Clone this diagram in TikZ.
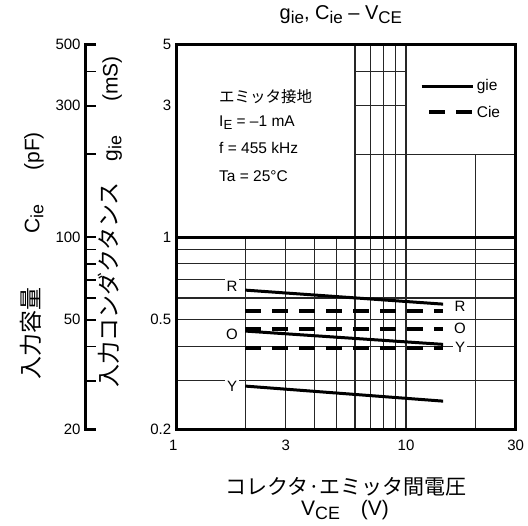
\documentclass[tikz,border=0pt]{standalone}
\usepackage{graphicx}
\usepackage{fontspec}
\setmainfont{Liberation Sans}
\newfontfamily\cjk{Noto Sans CJK JP}
\newcommand{\lsub}[1]{\raisebox{-0.35ex}{\scalebox{0.85}{#1}}}
\tikzset{
  grid line/.style={line width=1.4pt, black!85},
  frame line/.style={line width=3pt},
  gie curve/.style={line width=3pt},
  cie curve/.style={line width=3.8pt, dash pattern=on 16pt off 11pt},
  tick label/.style={font=\fontsize{15}{17}\selectfont, inner sep=0pt},
  curve label/.style={font=\fontsize{15}{17}\selectfont, fill=white, inner sep=2pt},
  note text/.style={font=\fontsize{15.5}{18}\selectfont, anchor=west, inner sep=0pt},
  axis title/.style={font=\fontsize{21}{24}\selectfont, inner sep=0pt},
}
\begin{document}
\begin{tikzpicture}[x=230pt,y=275pt]
  \useasboundingbox (-0.7652,-1.0473) rectangle (1.5304,0.8618);
  % Grid below 1
  \foreach \v in {0.3,0.4,0.5,0.6,0.7,0.8,0.9}
    \draw [grid line] (0,{log10(\v)}) -- ({log10(30)},{log10(\v)});
  \foreach \u in {2,3,4,5}
    \draw [grid line] ({log10(\u)},{log10(0.2)}) -- ({log10(\u)},0);
  \foreach \u in {6,7,8,9,10}
    \draw [grid line] ({log10(\u)},{log10(0.2)}) -- ({log10(\u)},{log10(5)});
  \draw [grid line] ({log10(20)},{log10(0.2)}) -- ({log10(20)},{log10(2)});
  % Grid above 1
  \draw [grid line] ({log10(6)},{log10(4)}) -- (1,{log10(4)});
  \draw [grid line] ({log10(6)},{log10(3)}) -- (1,{log10(3)});
  \draw [grid line] ({log10(6)},{log10(2)}) -- ({log10(30)},{log10(2)});
  \draw [frame line] (0,0) -- ({log10(30)},0);

  % Curve labels
  \node [curve label] (rl) at (0.2435,-0.178) {R};
  \node [curve label] (ol) at (0.2435,-0.353) {O};
  \node [curve label] (yl) at (0.2435,-0.542) {Y};
  \node [curve label] (rr) at (1.2348,-0.251) {R};
  \node [curve label] (or) at (1.2348,-0.331) {O};
  \node [curve label] (yr) at (1.2348,-0.400) {Y};

  % Curves
  \draw [gie curve] ({log10(2)},{log10(0.641)}) -- ({log10(14.5)},{log10(0.570)});
  \draw [gie curve] ({log10(2)},{log10(0.455)}) -- ({log10(14.5)},{log10(0.407)});
  \draw [gie curve] ({log10(2)},{log10(0.287)}) -- ({log10(14.5)},{log10(0.253)});
  \draw [cie curve] ({log10(2)},{log10(0.538)}) -- ({log10(14.5)},{log10(0.538)});
  \draw [cie curve] ({log10(2)},{log10(0.462)}) -- ({log10(14.5)},{log10(0.462)});
  \draw [cie curve] ({log10(2)},{log10(0.395)}) -- ({log10(14.5)},{log10(0.395)});

  % Frame and axes
  \draw [frame line] (0,{log10(0.2)}) rectangle ({log10(30)},{log10(5)});
  \draw [frame line] (-0.3478,{log10(5)}) -- (-0.3913,{log10(5)})
      -- (-0.3913,{log10(0.2)}) -- (-0.3478,{log10(0.2)});
  \foreach \v in {4,3,2,1,0.9,0.8,0.7,0.6,0.5,0.4,0.3}
    \draw [line width=1.8pt] (-0.3913,{log10(\v)}) -- (-0.3478,{log10(\v)});

  % Tick labels
  \node [tick label, anchor=east] (y5) at (-0.02,{log10(5)}) {5};
  \node [tick label, anchor=east] (y3) at (-0.02,{log10(3)}) {3};
  \node [tick label, anchor=east] (y1) at (-0.02,0) {1};
  \node [tick label, anchor=east] (y05) at (-0.02,{log10(0.5)}) {0.5};
  \node [tick label, anchor=east] (y02) at (-0.02,{log10(0.2)}) {0.2};
  \node [tick label, anchor=east] (c500) at (-0.414,{log10(5)}) {500};
  \node [tick label, anchor=east] (c300) at (-0.414,{log10(3)}) {300};
  \node [tick label, anchor=east] (c100) at (-0.414,0) {100};
  \node [tick label, anchor=east] (c50) at (-0.414,{log10(0.5)}) {50};
  \node [tick label, anchor=east] (c20) at (-0.414,{log10(0.2)}) {20};
  \node [tick label] (x1) at (-0.012,-0.756) {1};
  \node [tick label] (x3) at ({log10(3)},-0.756) {3};
  \node [tick label] (x10) at (1,-0.756) {10};
  \node [tick label] (x30) at ({log10(30)},-0.756) {30};

  % Conditions
  \node [note text] (ground) at (0.187,0.510) {\cjk エミッタ接地};
  \node [note text] (ie) at (0.187,0.4156) {I\lsub{E} = –1 mA};
  \node [note text] (freq) at (0.187,0.3225) {f = 455 kHz};
  \node [note text] (temp) at (0.187,0.2229) {Ta = 25°C};

  % Legend
  \node [note text] (leggie) at (1.307,0.5465) {gie};
  \node [note text] (legcie) at (1.307,0.4545) {Cie};
  \draw [gie curve] (1.068,0.5465) -- (1.2926,0.5465);
  \draw [cie curve] (1.1013,0.4545) -- (1.2926,0.4545);

  % Titles
  \node [font=\fontsize{20}{24}\selectfont, inner sep=0pt] (title) at (0.717,0.807)
      {g\lsub{ie}, C\lsub{ie} – V\lsub{CE}};
  \node [axis title] (xtitle) at (0.739,-0.909) {\cjk コレクタ·エミッタ間電圧};
  \node [axis title] (xunit) at (0.735,-0.993) {V\lsub{CE}\hspace{1em}(V)};
  \node [axis title, rotate=90, anchor=west] (ctitle) at (-0.626,-0.52)
      {{\cjk\fontsize{23}{26}\selectfont 入力容量}\hspace{2.6em}C\lsub{ie}\hspace{1.6em}(pF)};
  \node [axis title, rotate=90, anchor=west] (gtitle) at (-0.287,-0.549)
      {{\cjk\fontsize{23}{26}\selectfont 入力コンダクタンス}\hspace{1em}g\lsub{ie}\hspace{1.6em}(mS)};
\end{tikzpicture}
\end{document}
